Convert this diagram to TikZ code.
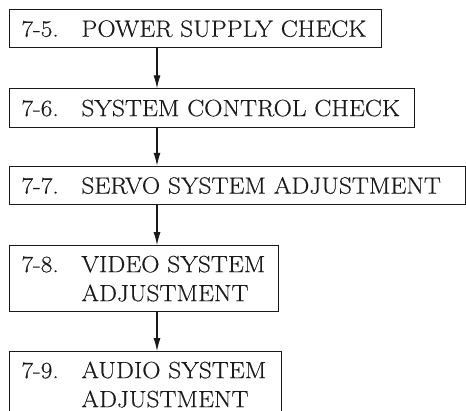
\documentclass[tikz,border=0pt]{standalone}
\usepackage{fontspec}
\setmainfont{Latin Modern Roman}[FakeStretch=1.08,FakeBold=0.4]
\usepackage{tikz}
\usetikzlibrary{arrows.meta,positioning}
\definecolor{Ink}{HTML}{1A1A1A}
\newcommand{\secnum}[1]{\makebox[60pt][l]{#1}}
\tikzset{stepbox/.style={draw=Ink,line width=.9pt,minimum height=38.5pt,align=left,inner xsep=12pt,inner ysep=0pt,text=Ink,font=\fontsize{23.5}{29}\selectfont},tallbox/.style={stepbox,minimum height=66pt},flow/.style={-{Latex[length=13pt,width=7pt]},line width=1.1pt,draw=Ink}}

\begin{document}
\begin{tikzpicture}[x=1pt,y=1pt]
      \useasboundingbox (0,0) rectangle (466,-411);
      \node[stepbox,text width=348pt,anchor=north west](power) at (9,-9){\mbox{\secnum{7-5.}POWER SUPPLY CHECK}};
      \node[stepbox,text width=381pt,below=40pt of power.south west,anchor=north west](control){\mbox{\secnum{7-6.}SYSTEM CONTROL CHECK}};
      \node[stepbox,text width=432pt,below=38pt of control.south west,anchor=north west](servo){\mbox{\secnum{7-7.}SERVO SYSTEM ADJUSTMENT}};
      \node[tallbox,text width=245pt,below=40pt of servo.south west,anchor=north west](video){\mbox{\secnum{7-8.}VIDEO SYSTEM}\\\mbox{\secnum{}ADJUSTMENT}};
      \node[tallbox,text width=248pt,below=39pt of video.south west,anchor=north west](audio){\mbox{\secnum{7-9.}AUDIO SYSTEM}\\\mbox{\secnum{}ADJUSTMENT}};
      \coordinate (axis) at (157,0);
      \draw[flow](power.south -| axis)--(control.north -| axis);\draw[flow](control.south -| axis)--(servo.north -| axis);
      \draw[flow](servo.south -| axis)--(video.north -| axis);\draw[flow](video.south -| axis)--(audio.north -| axis);
    \end{tikzpicture}
\end{document}
